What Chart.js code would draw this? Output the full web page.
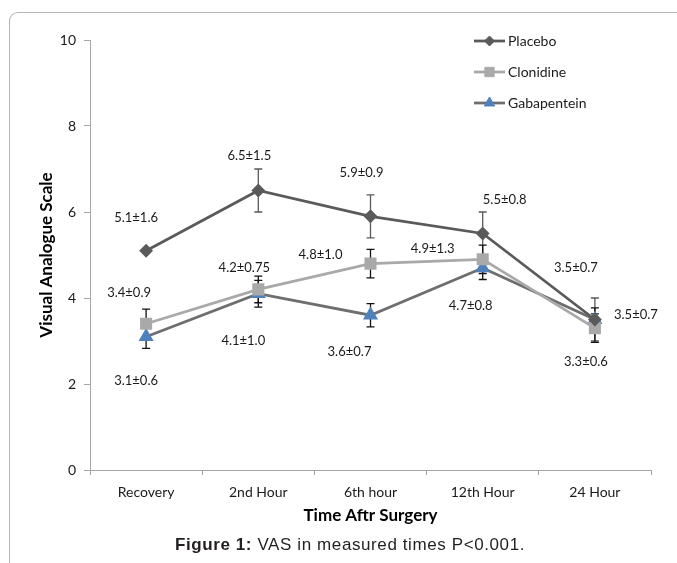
<!DOCTYPE html>
<html>
<head>
<meta charset="utf-8">
<script src="https://cdn.jsdelivr.net/npm/chart.js@4.4.1/dist/chart.umd.min.js"></script>
<style>
  html, body { margin: 0; padding: 0; background: #fff; }
  #wrap { position: relative; width: 677px; height: 563px; overflow: hidden; }
  #frame {
    position: absolute; left: 9px; top: 12px; width: 720px; height: 620px;
    border-top: 1px solid #b4b4b4; border-left: 1px solid #b4b4b4;
    border-top-left-radius: 9px;
  }
  #chart { position: absolute; left: 0; top: 0; }
  #caption {
    position: absolute; left: 0; width: 700px; top: 535px; text-align: center;
    font-family: "Liberation Sans", Arial, sans-serif; font-size: 17px; color: #231f20;
    letter-spacing: 0.6px;
  }
</style>
</head>
<body>
<div id="wrap">
  <div id="frame"></div>
  <canvas id="chart" width="677" height="563"></canvas>
  <div id="caption"><b>Figure 1:</b> VAS in measured times P&lt;0.001.</div>
</div>
<script>
// data
const categories = ['Recovery', '2nd Hour', '6th hour', '12th Hour', '24 Hour'];
const yTicks = [0, 2, 4, 6, 8, 10];

const placebo = [5.1, 6.5, 5.9, 5.5, 3.5];
const clonidine = [3.4, 4.2, 4.8, 4.9, 3.3];
const gabapentein = [3.1, 4.1, 3.6, 4.7, 3.5];

// error bar half-lengths as drawn (null = no bar)
const placeboErr = [null, 0.5, 0.5, 0.5, 0.5];
const clonidineErr = [0.34, 0.31, 0.33, 0.33, 0.33];
const gabapenteinErr = [0.27, 0.31, 0.27, 0.27, 0.27];

const placeboLabels = ['5.1±1.6', '6.5±1.5', '5.9±0.9', '5.5±0.8', '3.5±0.7'];
const clonidineLabels = ['3.4±0.9', '4.2±0.75', '4.8±1.0', '4.9±1.3', '3.3±0.6'];
const gabapenteinLabels = ['3.1±0.6', '4.1±1.0', '3.6±0.7', '4.7±0.8', '3.5±0.7'];

// label placement, pixel offsets from each point
const labelOffsets = [
  [[-10, -33], [-9, -35], [-9, -43], [22, -34], [-19, -52]],
  [[-17, -31], [-14, -22], [-50, -9], [-50, -10], [-9, 34]],
  [[-10, 44], [-15, 47], [-21, 37], [-12, 38], [41, -5]],
];

const FONT = 'Lato, "Open Sans", sans-serif';

const errorBars = {
  id: 'errorBars',
  beforeDatasetsDraw(chart) {
    const ctx = chart.ctx;
    const y = chart.scales.y;
    chart.data.datasets.forEach((ds, i) => {
      const meta = chart.getDatasetMeta(i);
      ds.errors.forEach((e, j) => {
        if (e == null) return;
        const pt = meta.data[j];
        const top = y.getPixelForValue(ds.data[j] + e);
        const bot = y.getPixelForValue(ds.data[j] - e);
        ctx.save();
        ctx.strokeStyle = ds.errorColor;
        ctx.lineWidth = 1.3;
        ctx.beginPath();
        ctx.moveTo(pt.x, top); ctx.lineTo(pt.x, bot);
        ctx.moveTo(pt.x - 4, top); ctx.lineTo(pt.x + 4, top);
        ctx.moveTo(pt.x - 4, bot); ctx.lineTo(pt.x + 4, bot);
        ctx.stroke();
        ctx.restore();
      });
    });
  }
};

const valueLabels = {
  id: 'valueLabels',
  afterDatasetsDraw(chart) {
    const ctx = chart.ctx;
    ctx.save();
    ctx.font = '13px ' + FONT;
    ctx.fillStyle = '#1a1a1a';
    ctx.textAlign = 'center';
    ctx.textBaseline = 'middle';
    chart.data.datasets.forEach((ds, i) => {
      const meta = chart.getDatasetMeta(i);
      ds.valueLabels.forEach((txt, j) => {
        const pt = meta.data[j];
        const off = labelOffsets[i][j];
        ctx.fillText(txt, pt.x + off[0], pt.y + off[1]);
      });
    });
    ctx.restore();
  }
};

const sideLegend = {
  id: 'sideLegend',
  afterDraw(chart) {
    const ctx = chart.ctx;
    const x0 = 474, x1 = 505, rows = [41, 72, 103];
    chart.data.datasets.forEach((ds, i) => {
      const yy = rows[i];
      ctx.save();
      ctx.strokeStyle = ds.borderColor;
      ctx.lineWidth = ds.borderWidth;
      ctx.beginPath();
      ctx.moveTo(x0, yy); ctx.lineTo(x1, yy);
      ctx.stroke();
      ctx.fillStyle = ds.pointBackgroundColor;
      ctx.strokeStyle = ds.pointBorderColor;
      ctx.lineWidth = 1;
      Chart.helpers.drawPoint(ctx, {
        pointStyle: ds.pointStyle, radius: ds.pointRadius, borderWidth: 1, rotation: 0
      }, (x0 + x1) / 2, yy);
      ctx.font = '14px ' + FONT;
      ctx.fillStyle = '#1a1a1a';
      ctx.textAlign = 'left';
      ctx.textBaseline = 'middle';
      ctx.fillText(ds.label, x1 + 3, yy);
      ctx.restore();
    });
  }
};

new Chart(document.getElementById('chart'), {
  type: 'line',
  data: {
    labels: categories,
    datasets: [
      {
        label: 'Placebo',
        data: placebo,
        errors: placeboErr,
        valueLabels: placeboLabels,
        errorColor: '#5a5a5a',
        borderColor: '#5a5a5a',
        borderWidth: 2.75,
        pointStyle: 'rectRot',
        pointRadius: 5,
        pointBackgroundColor: '#5a5a5a',
        pointBorderColor: '#5a5a5a',
        tension: 0,
      },
      {
        label: 'Clonidine',
        data: clonidine,
        errors: clonidineErr,
        valueLabels: clonidineLabels,
        errorColor: '#111',
        borderColor: '#a9a9a9',
        borderWidth: 2.75,
        pointStyle: 'rect',
        pointRadius: 6.6,
        pointBackgroundColor: '#a9a9a9',
        pointBorderColor: '#a9a9a9',
        tension: 0,
      },
      {
        label: 'Gabapentein',
        data: gabapentein,
        errors: gabapenteinErr,
        valueLabels: gabapenteinLabels,
        errorColor: '#111',
        borderColor: '#6e6e6e',
        borderWidth: 2.75,
        pointStyle: 'triangle',
        pointRadius: 6,
        pointBackgroundColor: '#4f81bd',
        pointBorderColor: '#4f81bd',
        tension: 0,
      },
    ],
  },
  options: {
    responsive: false,
    animation: false,
    devicePixelRatio: 1,
    layout: { padding: { left: 30, right: 26, top: 40, bottom: 36 } },
    plugins: {
      legend: { display: false },
      tooltip: { enabled: false },
    },
    scales: {
      x: {
        type: 'category',
        offset: true,
        afterFit: (s) => { s.height = 57; },
        grid: { offset: true, drawOnChartArea: false, tickLength: 5, color: '#a6a6a6' },
        border: { color: '#a6a6a6', width: 1 },
        ticks: { padding: 9, color: '#1a1a1a', font: { family: FONT, size: 14 } },
        title: {
          display: true,
          text: 'Time Aftr Surgery',
          color: '#000',
          font: { family: FONT, size: 17, weight: 'bold' },
          padding: { top: 0, bottom: 1 },
        },
      },
      y: {
        min: 0,
        max: 10,
        afterFit: (s) => { s.width = 60; },
        afterBuildTicks: (s) => { s.ticks = yTicks.map((v) => ({ value: v })); },
        grid: { drawOnChartArea: false, tickLength: 6, color: '#a6a6a6' },
        border: { color: '#a6a6a6', width: 1 },
        ticks: { padding: 8, color: '#1a1a1a', font: { family: FONT, size: 14 } },
        title: {
          display: true,
          text: 'Visual Analogue Scale',
          color: '#000',
          font: { family: FONT, size: 17, weight: 'bold' },
          padding: { top: 6, bottom: 0 },
        },
      },
    },
  },
  plugins: [errorBars, valueLabels, sideLegend],
});
</script>
</body>
</html>
